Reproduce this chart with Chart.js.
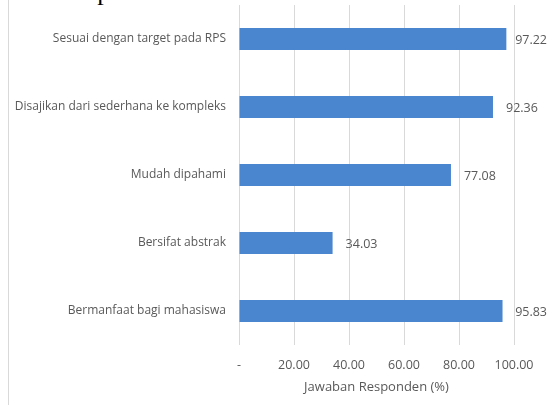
<!DOCTYPE html>
<html>
<head>
<meta charset="utf-8">
<script src="https://cdn.jsdelivr.net/npm/chart.js@4/dist/chart.umd.min.js"></script>
<style>
  html, body { margin: 0; padding: 0; background: #fff; }
  #wrap { position: relative; width: 548px; height: 405px; overflow: hidden; }
  #caption {
    position: absolute; left: 72px; top: -21px;
    font: 26px/26px "Liberation Serif", "DejaVu Serif", serif;
    color: #000; white-space: nowrap;
  }
  #frame { position: absolute; left: 8px; top: 0; width: 1px; height: 405px; background: #d9d9d9; }
  #showGraphResponden { position: absolute; left: 0; top: 0; }
</style>
</head>
<body>
<div id="wrap">
  <div id="caption">ai pada Gambar 6.</div>
  <div id="frame"></div>
  <canvas id="showGraphResponden" width="548" height="405"></canvas>
</div>
<script>
var labels = [
  'Sesuai dengan target pada RPS',
  'Disajikan dari sederhana ke kompleks',
  'Mudah dipahami',
  'Bersifat abstrak',
  'Bermanfaat bagi mahasiswa'
];
var values = [97.22, 92.36, 77.08, 34.03, 95.83];
var tickValues = [0, 20, 40, 60, 80, 100];

var grey = '#595959';
var fontFamily = '"Open Sans", "DejaVu Sans", sans-serif';

// writes each value just right of its bar
var valueLabels = {
  id: 'valueLabels',
  afterDatasetsDraw: function(chart) {
    var ctx = chart.ctx;
    var meta = chart.getDatasetMeta(0);
    ctx.save();
    ctx.font = '12.5px ' + fontFamily;
    ctx.fillStyle = grey;
    ctx.textBaseline = 'middle';
    ctx.textAlign = 'left';
    meta.data.forEach(function(bar, i) {
      var text = values[i].toFixed(2);
      var x = bar.x + 13;
      var w = ctx.measureText(text).width;
      if (x + w > chart.width - 1) {
        x = chart.width - 1 - w;
      }
      ctx.fillText(text, x, bar.y + 1);
    });
    ctx.restore();
  }
};

var config = {
  type: 'bar',
  data: {
    labels: labels,
    datasets: [{
      data: values,
      backgroundColor: '#4a86cf',
      borderWidth: 0,
      categoryPercentage: 1,
      barPercentage: 0.32
    }]
  },
  options: {
    indexAxis: 'y',
    responsive: false,
    animation: false,
    layout: { padding: { top: 5, right: 34, left: 0, bottom: 0 } },
    plugins: {
      legend: { display: false },
      tooltip: { enabled: false }
    },
    scales: {
      x: {
        min: 0,
        max: 100,
        afterBuildTicks: function(scale) {
          scale.ticks = tickValues.map(function(v) { return { value: v }; });
        },
        afterFit: function(scale) { scale.height = 60; },
        grid: { color: '#d9d9d9', drawTicks: false },
        border: { display: false },
        ticks: {
          padding: 13,
          color: grey,
          font: { family: fontFamily, size: 12.5 },
          callback: function(v) { return v === 0 ? '-' : Number(v).toFixed(2); }
        },
        title: {
          display: true,
          text: 'Jawaban Responden (%)',
          color: grey,
          font: { family: fontFamily, size: 13 },
          padding: { top: 4, bottom: 10 }
        }
      },
      y: {
        afterFit: function(scale) {
          scale.width = 239;
          scale.paddingTop = 0;
          scale.paddingBottom = 0;
        },
        grid: { display: false },
        border: { display: false },
        ticks: {
          padding: 5,
          color: grey,
          font: { family: fontFamily, size: 12 }
        }
      }
    }
  },
  plugins: [valueLabels]
};

var myChartResponden = new Chart(
  document.querySelector('#showGraphResponden').getContext('2d'),
  config
);
</script>
</body>
</html>
